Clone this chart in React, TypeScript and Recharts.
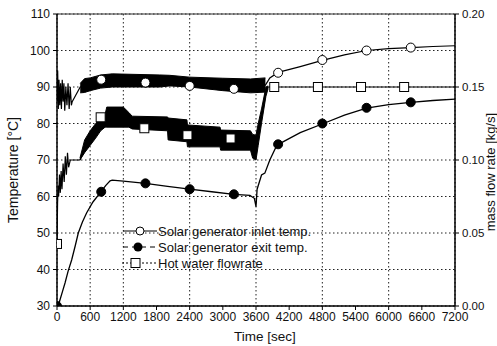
import React from "react";
import { ComposedChart, Line, Area, XAxis, YAxis, CartesianGrid, ReferenceLine } from "recharts";

// time axis [sec]
const xTicks = [0, 600, 1200, 1800, 2400, 3000, 3600, 4200, 4800, 5400, 6000, 6600, 7200];
const tempTicks = [30, 40, 50, 60, 70, 80, 90, 100, 110];
const flowTicks = [0, 0.05, 0.1, 0.15, 0.2];

// Solar generator inlet temp. [°C]
const inletTime = [0, 12, 24, 36, 50, 65, 80, 95, 110, 125, 140, 160, 180, 200, 220, 240, 260, 275, 420, 1000, 2000, 3000, 3770, 3850, 4000, 4400, 4800, 5200, 5600, 6000, 6400, 6800, 7200];
const inletTemp = [86, 94.5, 84, 92, 85, 91, 84, 92, 86, 91, 83.5, 90, 85, 91, 84, 90, 85, 86, 90, 91.8, 91.7, 90.7, 90.5, 92.5, 94, 95.6, 97.3, 98.8, 100, 100.5, 100.8, 101.1, 101.3];
// noisy band of the inlet temp.
const inletBandTime = [420, 500, 600, 790, 1000, 1860, 2040, 2400, 3000, 3500, 3770];
const inletBandLow = [88.4, 88.5, 89, 89.7, 90, 90, 90.3, 90, 89, 88.4, 88.6];
const inletBandHigh = [91, 92.3, 92.5, 93.3, 93.6, 93.3, 93.2, 92.7, 92.4, 92.2, 92.5];
const inletMarkTime = [800, 1600, 2400, 3200, 4000, 4800, 5600, 6400];
const inletMarkTemp = [92, 91.2, 90.3, 89.5, 93.9, 97.4, 100, 100.8];

// Solar generator exit temp. [°C]
const exitTime = [0, 25, 60, 100, 145, 200, 265, 330, 385, 460, 535, 650, 780, 880, 960, 1000, 1200, 1600, 2000, 2400, 2800, 3200, 3490, 3570, 3600, 3620, 3700, 3760, 3850, 3975, 4020, 4400, 4820, 5200, 5600, 6000, 6400, 6800, 7200];
const exitTemp = [30, 30.2, 32, 34, 36.3, 39.5, 42.6, 46.5, 50, 53, 55.5, 58.5, 61, 63, 64.3, 64.5, 64.2, 63.6, 62.8, 62, 61.3, 60.6, 60.3, 59.5, 57.2, 62, 65.9, 66.4, 70, 74, 74.4, 77.5, 80, 82.3, 84.2, 85.2, 85.8, 86.3, 86.7];
const exitMarkTime = [0, 800, 1600, 2400, 3200, 4000, 4800, 5600, 6400];
const exitMarkTemp = [30, 61.3, 63.6, 62, 60.6, 74.3, 80, 84.3, 85.8];

// Hot water flowrate [kg/s]
const flowTime = [0, 10, 20, 30, 45, 60, 75, 90, 110, 130, 150, 170, 190, 210, 240, 415, 600, 790, 1000, 1500, 2100, 2700, 3300, 3600, 3700, 3780, 3820, 7200];
const flowRate = [0.0425, 0.07, 0.0825, 0.075, 0.09, 0.0775, 0.0925, 0.08, 0.0975, 0.085, 0.1025, 0.09, 0.105, 0.095, 0.1, 0.1, 0.115, 0.124, 0.129, 0.125, 0.12, 0.116, 0.114, 0.1075, 0.13, 0.1475, 0.15, 0.15];
const flowBandTime = [415, 500, 600, 700, 790, 870, 900, 1200, 1300, 1360, 2000, 2010, 2350, 2360, 2950, 2960, 3500, 3540, 3600, 3640, 3700, 3780, 3820];
const flowBandLow = [0.1, 0.105, 0.11, 0.115, 0.12, 0.1225, 0.1225, 0.1225, 0.1225, 0.12125, 0.12, 0.11375, 0.1125, 0.109, 0.109, 0.10675, 0.10675, 0.10125, 0.1, 0.11, 0.125, 0.14375, 0.149];
const flowBandHigh = [0.10125, 0.11375, 0.12, 0.125, 0.12875, 0.13125, 0.13625, 0.13625, 0.1325, 0.13, 0.1295, 0.12875, 0.1275, 0.124, 0.1225, 0.1205, 0.12, 0.1175, 0.117, 0.125, 0.135, 0.15, 0.15075];
const flowMarkTime = [0, 790, 1580, 2360, 3140, 3930, 4720, 5500, 6280];
const flowMarkRate = [0.0425, 0.12925, 0.12175, 0.117, 0.11475, 0.15, 0.15, 0.15, 0.15];

const pts = (ts: number[], vs: number[]) => ts.map((t, i) => ({ t, v: vs[i] }));
const band = (ts: number[], lo: number[], hi: number[]) => ts.map((t, i) => ({ t, r: [lo[i], hi[i]] }));

const inletData = pts(inletTime, inletTemp);
const inletBand = band(inletBandTime, inletBandLow, inletBandHigh);
const inletMarks = pts(inletMarkTime, inletMarkTemp);
const exitData = pts(exitTime, exitTemp);
const exitMarks = pts(exitMarkTime, exitMarkTemp);
const flowData = pts(flowTime, flowRate);
const flowBand = band(flowBandTime, flowBandLow, flowBandHigh);
const flowMarks = pts(flowMarkTime, flowMarkRate);

const FONT = "'Liberation Sans', Arial, sans-serif";
const tickStyle = { fontSize: 12, fill: "#111", fontFamily: FONT };
const rightTickStyle = { fontSize: 11.5, fill: "#111", fontFamily: FONT };

const Square = (p: any) => (
  <rect key={`sq-${p.index}`} x={p.cx - 4.5} y={p.cy - 4.5} width={9} height={9} fill="#fff" stroke="#000" strokeWidth={1} />
);

const Overlay = () => (
  <svg width={497} height={346} style={{ position: "absolute", left: 0, top: 0, pointerEvents: "none" }}>
    <g fontFamily={FONT} fill="#111">
      <text x={13} y={170} fontSize={14} textAnchor="middle" dominantBaseline="central" transform="rotate(-90 13 170)">
        Temperature [°C]
      </text>
      <text x={490} y={172} fontSize={13} textAnchor="middle" dominantBaseline="central" transform="rotate(-90 490 172)">
        mass flow rate [kg/s]
      </text>
      <text x={265} y={336} fontSize={13.5} textAnchor="middle" dominantBaseline="central">
        Time [sec]
      </text>
      {/* legend */}
      <line x1={123} y1={231} x2={157} y2={231} stroke="#000" />
      <circle cx={140} cy={231} r={4} fill="#fff" stroke="#000" />
      <text x={158} y={231} fontSize={13} dominantBaseline="central">Solar generator inlet temp.</text>
      <line x1={123} y1={247} x2={157} y2={247} stroke="#000" strokeDasharray="5 4" />
      <circle cx={138} cy={247} r={4.5} fill="#000" />
      <text x={158} y={247} fontSize={13} dominantBaseline="central">Solar generator exit temp.</text>
      <line x1={122} y1={263} x2={157} y2={263} stroke="#000" strokeDasharray="2 2" />
      <rect x={131} y={258.5} width={9} height={9} fill="#fff" stroke="#000" />
      <text x={158} y={263} fontSize={13} dominantBaseline="central">Hot water flowrate</text>
    </g>
  </svg>
);

const App = () => {
  return (
    <div style={{ position: "absolute", left: 0, top: 0, width: 497, height: 346, background: "#fff", fontFamily: FONT }}>
      <ComposedChart width={497} height={346} margin={{ top: 14, right: 0, bottom: 0, left: 0 }}>
        <CartesianGrid yAxisId="left" stroke="#222" strokeDasharray="1.5 2.5" />
        <XAxis
          dataKey="t"
          type="number"
          domain={[0, 7200]}
          ticks={xTicks}
          height={40}
          tickSize={4}
          tickMargin={2}
          tick={tickStyle}
          axisLine={{ stroke: "#000", strokeWidth: 1.5 }}
          tickLine={{ stroke: "#000" }}
          allowDataOverflow
        />
        <YAxis
          yAxisId="left"
          type="number"
          domain={[30, 110]}
          ticks={tempTicks}
          width={57}
          tickSize={4}
          tickMargin={3}
          tick={tickStyle}
          axisLine={{ stroke: "#000", strokeWidth: 1.5 }}
          tickLine={{ stroke: "#000" }}
          allowDataOverflow
        />
        <YAxis
          yAxisId="right"
          orientation="right"
          type="number"
          domain={[0, 0.2]}
          ticks={flowTicks}
          width={42}
          tickSize={4}
          tickMargin={3}
          tick={rightTickStyle}
          tickFormatter={(v: number) => v.toFixed(2)}
          axisLine={{ stroke: "#000", strokeWidth: 1.5 }}
          tickLine={{ stroke: "#000" }}
          allowDataOverflow
        />
        <ReferenceLine yAxisId="left" y={110} stroke="#333" strokeWidth={1.2} />

        <Area yAxisId="left" data={inletBand} dataKey="r" type="linear" stroke="#000" fill="#000" fillOpacity={1} isAnimationActive={false} />
        <Area yAxisId="right" data={flowBand} dataKey="r" type="linear" stroke="#000" fill="#000" fillOpacity={1} isAnimationActive={false} />

        <Line yAxisId="left" data={inletData} dataKey="v" type="linear" stroke="#000" strokeWidth={1.2} dot={false} activeDot={false} isAnimationActive={false} />
        <Line yAxisId="left" data={exitData} dataKey="v" type="linear" stroke="#000" strokeWidth={1.3} dot={false} activeDot={false} isAnimationActive={false} />
        <Line yAxisId="right" data={flowData} dataKey="v" type="linear" stroke="#000" strokeWidth={1.2} dot={false} activeDot={false} isAnimationActive={false} />

        <Line yAxisId="left" data={inletMarks} dataKey="v" stroke="none" dot={{ r: 4.5, fill: "#fff", stroke: "#000", strokeWidth: 1 }} activeDot={false} isAnimationActive={false} />
        <Line yAxisId="left" data={exitMarks} dataKey="v" stroke="none" dot={{ r: 4.5, fill: "#000", stroke: "#000", strokeWidth: 1 }} activeDot={false} isAnimationActive={false} />
        <Line yAxisId="right" data={flowMarks} dataKey="v" stroke="none" dot={Square} activeDot={false} isAnimationActive={false} />
      </ComposedChart>
      <Overlay />
    </div>
  );
};

export default App;
